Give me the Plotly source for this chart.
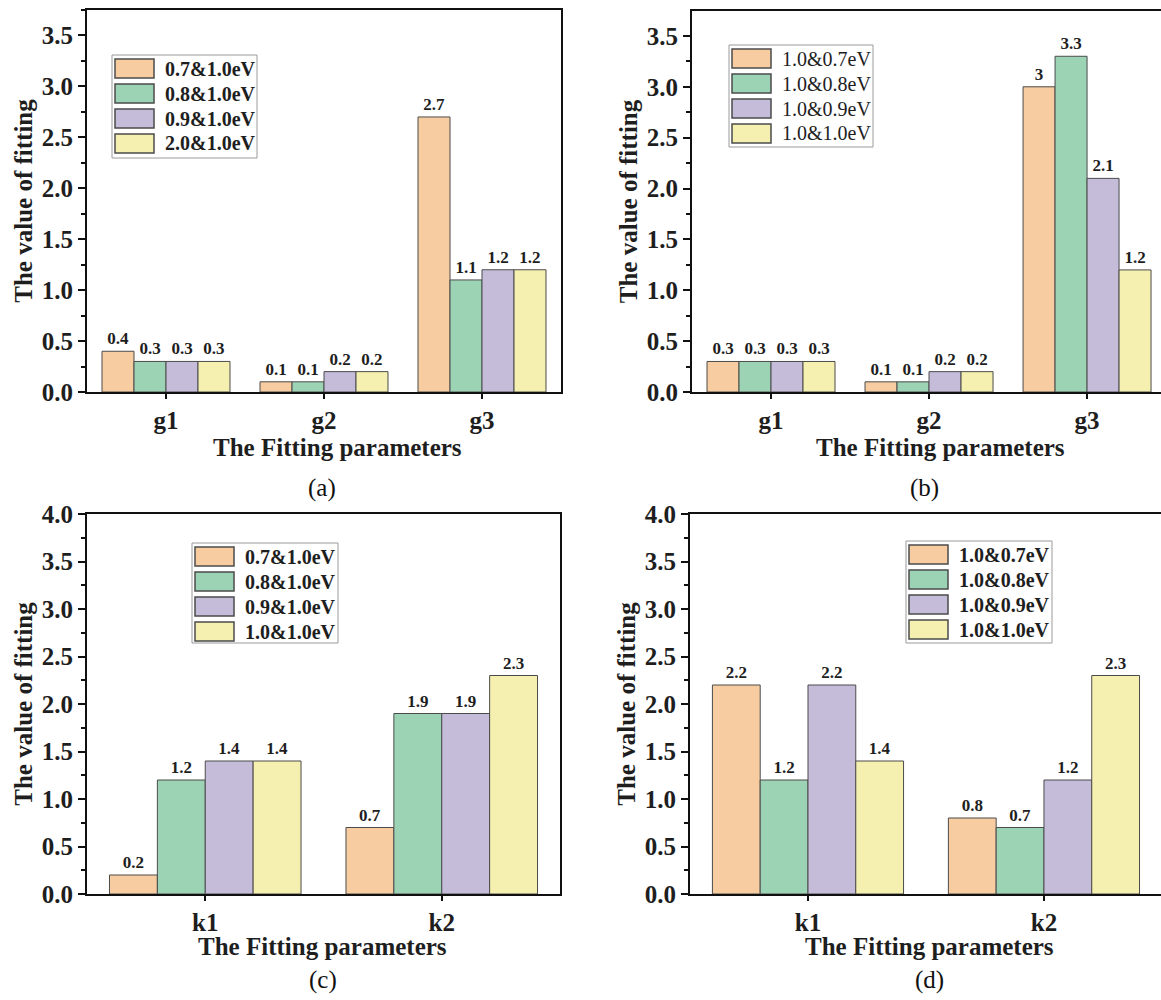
import plotly.graph_objects as go

# ---------------- data ----------------
g_params = ["g1", "g2", "g3"]
k_params = ["k1", "k2"]

legend_a = ["0.7&1.0eV", "0.8&1.0eV", "0.9&1.0eV", "2.0&1.0eV"]
legend_b = ["1.0&0.7eV", "1.0&0.8eV", "1.0&0.9eV", "1.0&1.0eV"]
legend_c = ["0.7&1.0eV", "0.8&1.0eV", "0.9&1.0eV", "1.0&1.0eV"]
legend_d = ["1.0&0.7eV", "1.0&0.8eV", "1.0&0.9eV", "1.0&1.0eV"]

values_a = [[0.4, 0.1, 2.7], [0.3, 0.1, 1.1], [0.3, 0.2, 1.2], [0.3, 0.2, 1.2]]
values_b = [[0.3, 0.1, 3], [0.3, 0.1, 3.3], [0.3, 0.2, 2.1], [0.3, 0.2, 1.2]]
values_c = [[0.2, 0.7], [1.2, 1.9], [1.4, 1.9], [1.4, 2.3]]
values_d = [[2.2, 0.8], [1.2, 0.7], [2.2, 1.2], [1.4, 2.3]]

x_title = "The Fitting parameters"
y_title = "The value of fitting"

colors = ["#F6CCA0", "#9DD3B5", "#C5BCDA", "#F5F0B0"]
edge = "rgb(75,75,75)"

W, H = 1161, 1000
FONT = "Liberation Serif"
TXT = "#1e1e1e"


def px(x):
    return x / W


def py(y):
    return 1 - y / H


fig = go.Figure()

panels = [
    dict(cats=g_params, vals=values_a, names=legend_a, ax="", xd=(87, 561), yd=(10, 392),
         xr=[-0.5, 2.5], yr=[0, 3.75], leg=(112, 55, 257, 158), bold=True, right=True,
         cap="(a)", capxy=(322, 488), xtxy=(337, 447)),
    dict(cats=g_params, vals=values_b, names=legend_b, ax="2", xd=(692, 1161), yd=(11, 392),
         xr=[-0.5, 2.468], yr=[0, 3.745], leg=(729, 45, 873, 147), bold=False, right=False,
         cap="(b)", capxy=(924, 488), xtxy=(940, 447)),
    dict(cats=k_params, vals=values_c, names=legend_c, ax="3", xd=(87, 560), yd=(514, 894),
         xr=[-0.5, 1.5], yr=[0, 4.0], leg=(192, 543, 338, 643), bold=True, right=True,
         cap="(c)", capxy=(323, 980), xtxy=(322, 946)),
    dict(cats=k_params, vals=values_d, names=legend_d, ax="4", xd=(690, 1161), yd=(514, 894),
         xr=[-0.5, 1.496], yr=[0, 4.0], leg=(906, 541, 1052, 643), bold=True, right=False,
         cap="(d)", capxy=(929, 980), xtxy=(929, 946)),
]

shapes = []
annotations = []
layout_axes = {}

for p in panels:
    xa = "x" + p["ax"]
    ya = "y" + p["ax"]
    for i, (name, vals) in enumerate(zip(p["names"], p["vals"])):
        fig.add_trace(go.Bar(
            x=p["cats"], y=vals, name=name,
            xaxis=xa, yaxis=ya,
            marker=dict(color=colors[i], line=dict(color=edge, width=1)),
            text=[str(v) for v in vals], texttemplate="%{text}", textposition="outside",
            textfont=dict(family=FONT, size=17, color=TXT, weight="bold"),
            constraintext="none", cliponaxis=False, showlegend=False,
            offsetgroup=str(i),
        ))
    xkey = "xaxis" + p["ax"]
    ykey = "yaxis" + p["ax"]
    layout_axes[xkey] = dict(
        domain=[px(p["xd"][0]), px(p["xd"][1])], anchor=ya, range=p["xr"],
        type="category",
        showline=True, linecolor="#111", linewidth=2, mirror=True,
        ticks="outside", ticklen=5, tickwidth=2, tickcolor="#111",
        tickfont=dict(family=FONT, size=25, color=TXT, weight="bold"),
        showgrid=False, zeroline=False, automargin=False,
    )
    layout_axes[ykey] = dict(
        domain=[py(p["yd"][1]), py(p["yd"][0])], anchor=xa, range=p["yr"],
        showline=True, linecolor="#111", linewidth=2, mirror=p["right"],
        ticks="outside", ticklen=7, tickwidth=2, tickcolor="#111",
        dtick=0.5, tick0=0, tickformat=".1f",
        minor=dict(ticks="outside", ticklen=4, tickwidth=2, dtick=0.25, tickcolor="#111"),
        tickfont=dict(family=FONT, size=25, color=TXT, weight="bold"),
        title=dict(text=y_title,
                   font=dict(family=FONT, size=25, color=TXT, weight="bold"),
                   standoff=2),
        showgrid=False, zeroline=False, automargin=False,
    )
    # x-axis title
    annotations.append(dict(
        xref="paper", yref="paper", x=px(p["xtxy"][0]), y=py(p["xtxy"][1]),
        xanchor="center", yanchor="middle", showarrow=False, text=x_title,
        font=dict(family=FONT, size=25, color=TXT, weight="bold"),
    ))
    # legend box with swatches and labels
    x0, y0, x1, y1 = p["leg"]
    shapes.append(dict(type="rect", xref="paper", yref="paper",
                       x0=px(x0), x1=px(x1), y0=py(y1), y1=py(y0),
                       line=dict(color="#9a9a9a", width=1), fillcolor="white", layer="above"))
    for i, name in enumerate(p["names"]):
        sy0 = y0 + 4 + i * 25
        sy1 = sy0 + 19
        shapes.append(dict(type="rect", xref="paper", yref="paper",
                           x0=px(x0 + 3), x1=px(x0 + 42), y0=py(sy1), y1=py(sy0),
                           line=dict(color=edge, width=1.5), fillcolor=colors[i], layer="above"))
        annotations.append(dict(
            xref="paper", yref="paper", x=px(x0 + 51), y=py((sy0 + sy1) / 2),
            xanchor="left", yanchor="middle", showarrow=False, text=name,
            font=dict(family=FONT, size=20, color=TXT, weight="bold" if p["bold"] else "normal"),
        ))
    annotations.append(dict(
        xref="paper", yref="paper", x=px(p["capxy"][0]), y=py(p["capxy"][1]),
        xanchor="center", yanchor="middle", showarrow=False, text=p["cap"],
        font=dict(family=FONT, size=25, color="#111"),
    ))

fig.update_layout(
    width=W, height=H,
    margin=dict(l=0, r=0, t=0, b=0),
    paper_bgcolor="white", plot_bgcolor="white",
    barmode="group", bargap=0.19, bargroupgap=0,
    showlegend=False,
    shapes=shapes, annotations=annotations,
    **layout_axes,
)

fig.write_html("out.html")
